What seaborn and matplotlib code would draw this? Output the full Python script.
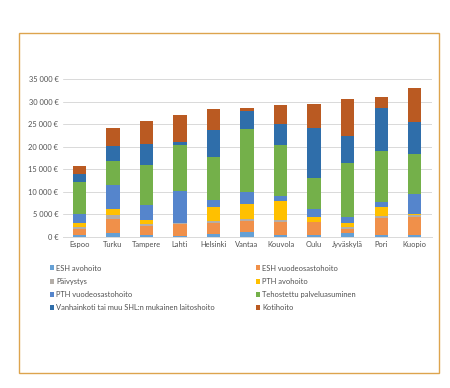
"""Stacked cost bars per city (elderly care cost components)."""

import matplotlib

matplotlib.use("Agg")
import matplotlib.pyplot as plt
import numpy as np
import seaborn as sns
from matplotlib.patches import Patch, Rectangle
from matplotlib.ticker import FuncFormatter

cities = ["Espoo", "Turku", "Tampere", "Lahti", "Helsinki", "Vantaa",
          "Kouvola", "Oulu", "Jyväskylä", "Pori", "Kuopio"]

esh_avohoito = [300, 750, 370, 250, 600, 980, 300, 370, 750, 450, 370]
esh_vuodeosasto = [1500, 3200, 2000, 2500, 2370, 2500, 3030, 2820, 1030, 3700, 3930]
paivystys = [300, 900, 430, 250, 450, 520, 440, 140, 310, 450, 450]
pth_avohoito = [900, 1300, 900, 100, 3240, 3260, 4090, 970, 880, 2060, 290]
pth_vuodeosasto = [2000, 5300, 3340, 7000, 1500, 2740, 1240, 1850, 1470, 1110, 4440]
tehostettu = [7100, 5300, 8800, 10350, 9500, 13850, 11200, 6950, 11990, 11330, 8880]
vanhainkoti = [1800, 3400, 4800, 500, 6100, 4120, 4700, 11030, 5920, 9400, 7040]
kotihoito = [1900, 4000, 5050, 6000, 4550, 670, 4300, 5330, 8150, 2440, 7550]

series_names = [
    "ESH avohoito",
    "ESH vuodeosastohoito",
    "Päivystys",
    "PTH avohoito",
    "PTH vuodeosastohoito",
    "Tehostettu palveluasuminen",
    "Vanhainkoti tai muu SHL:n mukainen laitoshoito",
    "Kotihoito",
]
series_values = [esh_avohoito, esh_vuodeosasto, paivystys, pth_avohoito,
                 pth_vuodeosasto, tehostettu, vanhainkoti, kotihoito]
colors = ["#65A0D5", "#F0904A", "#B4AEA8", "#FFC000",
          "#5585CC", "#74B04A", "#2F6EAA", "#BA5A22"]

sns.set_theme(style="white")
plt.rcParams["font.family"] = ["Lato", "DejaVu Sans"]

fig = plt.figure(figsize=(4.5, 3.88), dpi=100)
ax = fig.add_axes([0.139, 0.390, 0.820, 0.406])

# stacked bars: draw cumulative totals from the top layer down
cum = np.cumsum(np.array(series_values, dtype=float), axis=0)
for i in range(len(series_names) - 1, -1, -1):
    sns.barplot(x=cities, y=cum[i], color=colors[i], saturation=1,
                width=0.4, errorbar=None, linewidth=0, ax=ax)

ax.set_ylim(0, 35000)
ax.set_xlim(-0.5, len(cities) - 0.5)
ax.set_yticks(np.arange(0, 35001, 5000))
ax.yaxis.set_major_formatter(
    FuncFormatter(lambda v, _: f"{int(v):,} €".replace(",", " ")))
ax.grid(axis="y", color="#D9D9D9", linewidth=0.7)
ax.set_axisbelow(True)
for side in ["top", "right", "left"]:
    ax.spines[side].set_visible(False)
ax.spines["bottom"].set_color("#D9D9D9")
ax.spines["bottom"].set_linewidth(0.7)
ax.tick_params(axis="both", length=0, labelsize=5.4, colors="#505050", pad=3)
ax.set_xlabel("")
ax.set_ylabel("")

handles = [Patch(facecolor=c, edgecolor="none") for c in colors]
legend_kw = dict(frameon=False, fontsize=5.4, handlelength=0.65, handleheight=0.65,
                 handletextpad=0.25, labelspacing=0.82, labelcolor="#505050",
                 borderaxespad=0, borderpad=0)
left = fig.legend([handles[i] for i in (0, 2, 4, 6)],
                  [series_names[i] for i in (0, 2, 4, 6)],
                  loc="upper left", bbox_to_anchor=(0.110, 0.318), **legend_kw)
right = fig.legend([handles[i] for i in (1, 3, 5, 7)],
                   [series_names[i] for i in (1, 3, 5, 7)],
                   loc="upper left", bbox_to_anchor=(0.568, 0.318), **legend_kw)

fig.patches.append(Rectangle((0.042, 0.039), 0.934, 0.876, transform=fig.transFigure,
                             fill=False, edgecolor="#DDA44E", linewidth=1.0))

fig.savefig("out.png", dpi=100)
